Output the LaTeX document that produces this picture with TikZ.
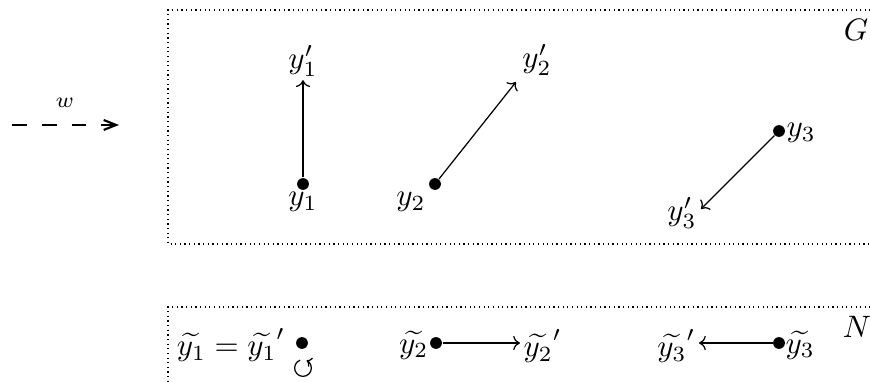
\documentclass[tikz,border=0pt]{standalone}
\usetikzlibrary{arrows.meta}
\begin{document}
\begin{tikzpicture}[x=0.3226pt,y=-0.3226pt,
  dotn/.style={circle,fill,inner sep=0pt,minimum size=3.8pt},
  lab/.style={inner sep=1pt},
  arr/.style={-{To[length=2.2pt,width=4.6pt]}, line width=0.4pt},
  boxline/.style={line width=0.4pt, dash pattern=on 0.4pt off 1.1pt}]
\useasboundingbox (0,0) rectangle (870,382);
\begin{scope}
\clip (0,0) rectangle (870,382);
\draw[boxline] (880,10) -- (168,10) -- (168,244) -- (880,244);
\draw[boxline] (880,307) -- (168,307) -- (168,400);
\end{scope}
\node[lab] (G) at (856,30) {$G$};
\node[lab] (N) at (857,327) {$N$};
% w arrow
\coordinate (ws) at (12,125);
\coordinate (we) at (119,125);
\draw[dash pattern=on 4.8pt off 4.8pt, line width=0.6pt, -{Straight Barb[length=4pt,width=3.2pt,line width=0.7pt]}] (ws) -- (we);
\node[lab] (w) at (65,103) {$\scriptstyle w$};
% G box
\node[dotn] (y1) at (303,184) {};
\node[lab] (y1l) at (303,202) {$y_1$};
\node[lab] (y1p) at (303,61) {$y_1'$};
\draw[arr] (y1) -- (y1p);
\node[dotn] (y2) at (435,184) {};
\node[lab] (y2l) at (411,202) {$y_2$};
\node[lab] (y2p) at (537,60) {$y_2'$};
\coordinate (y2t) at (516,82);
\draw[arr] (y2) -- (y2t);
\node[dotn] (y3) at (779,131) {};
\node[lab,anchor=west] (y3l) at (783,133) {$y_3$};
\node[lab] (y3p) at (682,213) {$y_3'$};
\coordinate (y3t) at (701,209);
\draw[arr] (y3) -- (y3t);
% N box
\node[lab] (n1) at (231,345) {$\widetilde{y_1}=\widetilde{y_1}'$};
\node[dotn] (n1d) at (302,343) {};
\coordinate (loopc) at (303,368);
\draw[-{To[length=1.6pt,width=3.2pt]}, line width=0.4pt] ([shift={(110:2.7pt)}]loopc) arc[start angle=110,end angle=425,radius=2.7pt];
\node[dotn] (n2d) at (436,343) {};
\node[lab,anchor=east] (n2l) at (432,345) {$\widetilde{y_2}$};
\node[lab,anchor=west] (n2p) at (520,346) {$\widetilde{y_2}'$};
\draw[arr] (n2d) -- (n2d -| n2p.west);
\node[dotn] (n3d) at (779,343) {};
\node[lab,anchor=west] (n3l) at (782,345) {$\widetilde{y_3}$};
\node[lab,anchor=east] (n3p) at (699,346) {$\widetilde{y_3}'$};
\draw[arr] (n3d) -- (n3d -| n3p.east);
\end{tikzpicture}
\end{document}
